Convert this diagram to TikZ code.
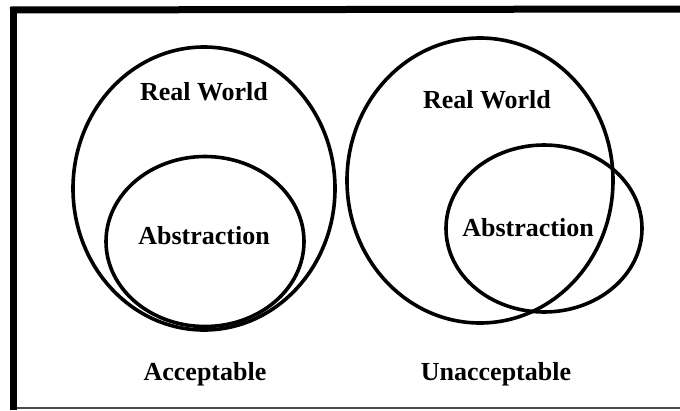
\documentclass[tikz,border=0pt]{standalone}
\usepackage{fontspec}
\setmainfont{Liberation Serif}
\begin{document}
\begin{tikzpicture}[x=1pt,y=-1pt,
  ring/.style={draw=black,line width=3.6pt},
  lbl/.style={font=\fontsize{26}{30}\selectfont\bfseries,inner sep=0pt,anchor=center},
  frameline/.style={draw=black,line width=7pt}]
\useasboundingbox (0,0) rectangle (680,410);
\fill[white] (0,0) rectangle (680,410);
% frame
\coordinate (tl) at (10,10);
\coordinate (tr) at (680,9);
\coordinate (lt) at (13.5,6.5);
\coordinate (lb) at (13.5,410);
\coordinate (bl) at (17,408);
\coordinate (br) at (680,408);
\draw[frameline] (lt) -- (lb);
\draw[frameline] (tl) -- (tr);
\draw[draw=black!70,line width=2pt] (bl) -- (br);
% left (acceptable)
\draw[ring] (204,188.5) ellipse [x radius=131, y radius=141.5];
\draw[ring] (205,241.5) ellipse [x radius=99, y radius=85];
% right (unacceptable)
\draw[ring] (480,180.5) ellipse [x radius=133, y radius=142.5];
\draw[ring] (544,228.5) ellipse [x radius=98, y radius=83.5];
% labels
\node[lbl] (rwL) at (204,92) {Real World};
\node[lbl] (abL) at (204,236) {Abstraction};
\node[lbl] (acc) at (205,374) {Acceptable};
\node[lbl] (rwR) at (487,100) {Real World};
\node[lbl] (abR) at (528,228) {Abstraction};
\node[lbl] (unacc) at (496,374) {Unacceptable};
\end{tikzpicture}
\end{document}
